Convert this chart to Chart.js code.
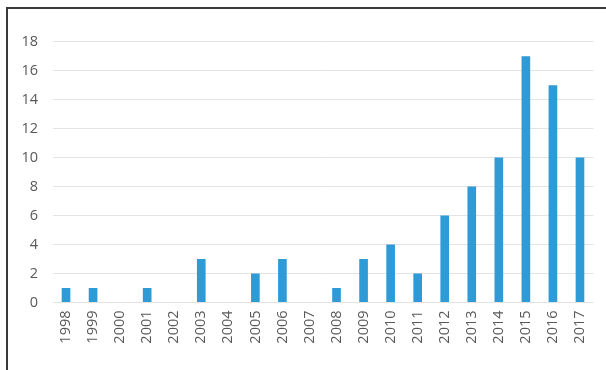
<!DOCTYPE html>
<html>
<head>
<meta charset="utf-8">
<script src="https://cdn.jsdelivr.net/npm/chart.js@4/dist/chart.umd.min.js"></script>
<style>
  html, body { margin: 0; padding: 0; background: #ffffff; }
  #wrap { position: relative; width: 606px; height: 370px; overflow: hidden; }
  #c { position: absolute; left: 0; top: 0; }
  .frame-top { position: absolute; left: 6px; top: 7px; width: 600px; height: 2px; background: #3a3a3a; }
  .frame-left { position: absolute; left: 6px; top: 7px; width: 2px; height: 363px; background: #3a3a3a; }
</style>
</head>
<body>
<div id="wrap">
  <canvas id="c" width="606" height="370"></canvas>
  <div class="frame-top"></div>
  <div class="frame-left"></div>
</div>
<script>
// Publications per year
const years = ['1998','1999','2000','2001','2002','2003','2004','2005','2006','2007',
               '2008','2009','2010','2011','2012','2013','2014','2015','2016','2017'];
const counts = [1, 1, 0, 1, 0, 3, 0, 2, 3, 0, 1, 3, 4, 2, 6, 8, 10, 17, 15, 10];
const yTicks = [0, 2, 4, 6, 8, 10, 12, 14, 16, 18];

const textColor = '#595959';
const font = { family: '"Open Sans", "Liberation Sans", sans-serif', size: 14.5 };

new Chart(document.getElementById('c'), {
  type: 'bar',
  data: {
    labels: years,
    datasets: [{
      data: counts,
      backgroundColor: '#2E9BD6',
      borderWidth: 0,
      barPercentage: 0.32,
      categoryPercentage: 1.0
    }]
  },
  options: {
    responsive: false,
    animation: false,
    devicePixelRatio: 1,
    layout: { padding: { top: 41.7, right: 12.5, bottom: 0, left: 0 } },
    plugins: { legend: { display: false }, tooltip: { enabled: false } },
    scales: {
      x: {
        grid: { display: false, drawTicks: false },
        border: { display: false },
        ticks: {
          color: textColor,
          font: font,
          minRotation: 90,
          maxRotation: 90,
          padding: 8,
          autoSkip: false
        },
        afterFit: (s) => { s.height = 67.5; }
      },
      y: {
        min: 0,
        max: 18,
        afterBuildTicks: (s) => { s.ticks = yTicks.map(v => ({ value: v })); },
        grid: { color: '#e3e3e3', lineWidth: 1, drawTicks: false },
        border: { display: false },
        ticks: { color: textColor, font: font, padding: 14.5 },
        afterFit: (s) => { s.width = 52.5; }
      }
    }
  }
});
</script>
</body>
</html>
